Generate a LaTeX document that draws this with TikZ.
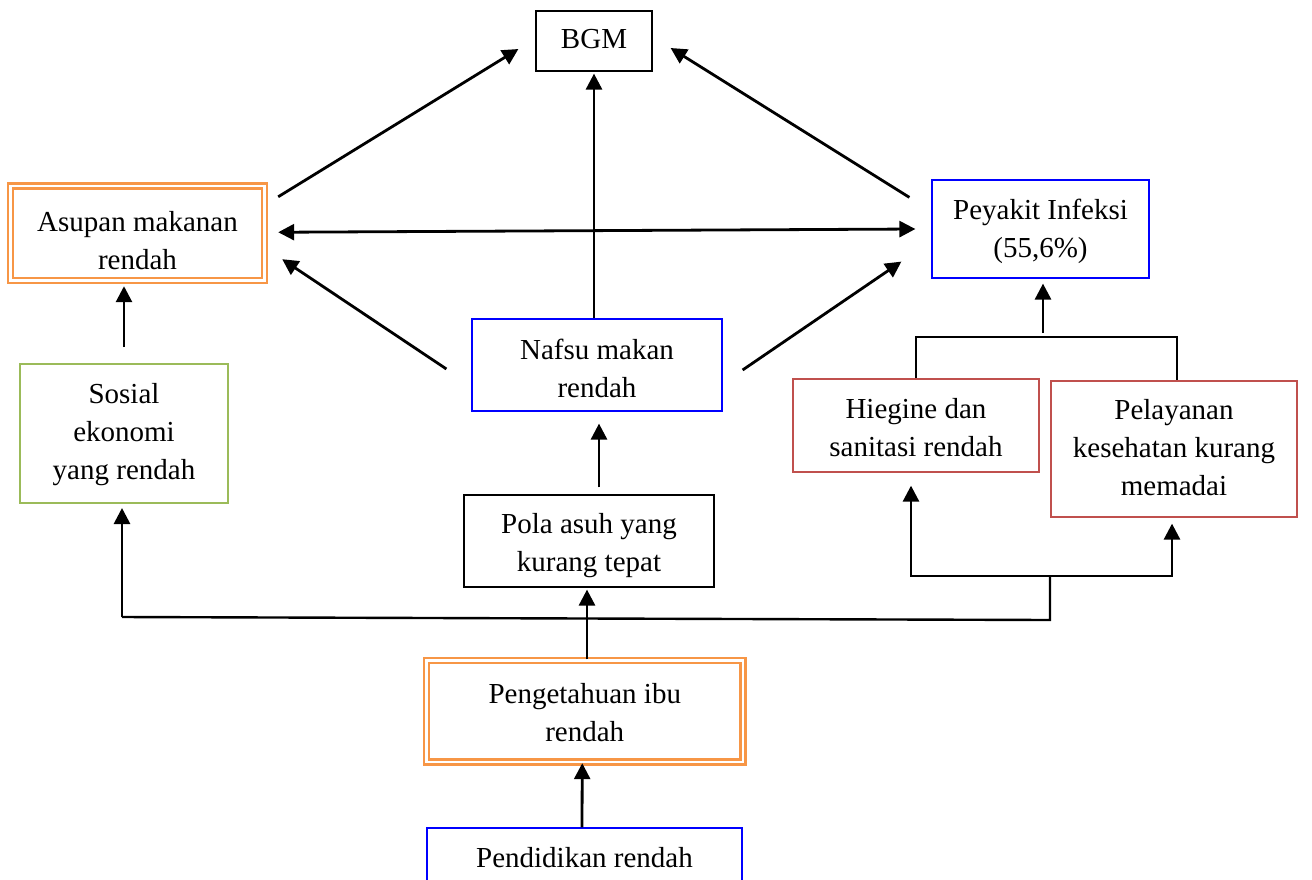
\documentclass[tikz,border=0pt]{standalone}
\usepackage{fontspec}
\setmainfont{Liberation Serif}
\usetikzlibrary{arrows.meta,calc}
\definecolor{boxorange}{HTML}{F79646}
\definecolor{boxblue}{HTML}{0000FF}
\definecolor{boxgreen}{HTML}{9BBB59}
\definecolor{boxred}{HTML}{C0504D}
\tikzset{
  box/.style={draw=black, line width=1.2pt, inner sep=0pt, fill=none},
  bluebox/.style={box, draw=boxblue},
  redbox/.style={box, draw=boxred, line width=1.3pt},
  greenbox/.style={box, draw=boxgreen, line width=2pt},
  dblbox/.style={box, draw=boxorange, line width=2.4pt, double=white, double distance=2.6pt},
  txt/.style={inner sep=0pt, align=center, anchor=north, font=\fontsize{29}{38}\selectfont},
  arr/.style={line width=2.8pt, -{Triangle[length=16pt,width=16pt]}},
  dblarr/.style={line width=2.8pt, {Triangle[length=16pt,width=16pt]}-{Triangle[length=16pt,width=16pt]}},
  link/.style={line width=2.4pt},
  fork/.style={line width=2pt},
}
\begin{document}
\begin{tikzpicture}[x=1pt,y=-1pt]
\useasboundingbox (0,0) rectangle (1312,879);
\clip (0,0) rectangle (1312,879);

% boxes
\node[box, minimum width=116pt, minimum height=60pt] (bgm) at (594,41) {};
\node[dblbox, minimum width=254pt, minimum height=94.5pt] (asupan) at (137.5,233.25) {};
\node[bluebox, minimum width=217pt, minimum height=98pt] (peyakit) at (1040.5,229) {};
\node[bluebox, minimum width=250pt, minimum height=92pt] (nafsu) at (597,365) {};
\node[greenbox, minimum width=208pt, minimum height=139pt] (sosial) at (124,433.5) {};
\node[box, minimum width=250pt, minimum height=92pt] (pola) at (589,541) {};
\node[redbox, minimum width=246pt, minimum height=93pt] (hiegine) at (916,425.5) {};
\node[redbox, minimum width=246pt, minimum height=136pt] (pelayanan) at (1174,449) {};
\node[dblbox, minimum width=316.5pt, minimum height=101.5pt] (pengetahuan) at (584.75,711.25) {};
\node[bluebox, minimum width=315pt, minimum height=72pt] (pendidikan) at (584.5,864) {};

% labels
\node[txt] (bgm-t) at (594,29) {BGM};
\node[txt] (asupan-t) at (137.5,211) {Asupan makanan\\rendah};
\node[txt] (peyakit-t) at (1040.5,199) {Peyakit Infeksi\\(55,6\%)};
\node[txt] (nafsu-t) at (597,339) {Nafsu makan\\rendah};
\node[txt] (sosial-t) at (124,383) {Sosial\\ekonomi\\yang rendah};
\node[txt] (pola-t) at (589,513) {Pola asuh yang\\kurang tepat};
\node[txt] (hiegine-t) at (916,398) {Hiegine dan\\sanitasi rendah};
\node[txt] (pelayanan-t) at (1174,399) {Pelayanan\\kesehatan kurang\\memadai};
\node[txt] (pengetahuan-t) at (584.75,683) {Pengetahuan ibu\\rendah};
\node[txt] (pendidikan-t) at (584.5,847) {Pendidikan rendah};

% vertical chain in the middle
\draw[arr] ([shift={(-2.5,0)}]pendidikan.north) -- ([shift={(-2.5,0)}]pengetahuan.south);
\draw[arr, shorten >=2pt] ([shift={(2.25,0)}]pengetahuan.north) -- ([shift={(-2,0)}]pola.south);
\draw[arr, shorten <=7pt, shorten >=12pt] ([shift={(2,0)}]pola.north -| nafsu.south) -- ([shift={(2,0)}]nafsu.south);
\draw[arr, shorten >=2pt] ([shift={(-3,0)}]nafsu.north) -- (bgm.south);

% left column
\draw[arr, shorten <=16pt, shorten >=4.5pt] (sosial.north) -- (asupan.south -| sosial.north);

% diagonal links
\draw[arr] ([shift={(12.5,12)}]asupan.north east) -- ([shift={(-17,8)}]bgm.west);
\draw[arr] ([shift={(-22,18)}]peyakit.north west) -- ([shift={(18,7)}]bgm.east);
\draw[dblarr] ([shift={(12.5,-1)}]asupan.east) -- ([shift={(-16,0)}]peyakit.west);
\draw[arr] ([shift={(-25,4)}]nafsu.west) -- ([shift={(16.5,-22.5)}]asupan.south east);
\draw[arr] ([shift={(20,5)}]nafsu.east) -- ([shift={(-30,-17)}]peyakit.south west);

% fork joining the two lower right causes to the infection box
\coordinate (topfork) at (1043,337);
\draw[fork] (hiegine.north) -- (hiegine.north |- topfork) -- ([shift={(3,0)}]pelayanan.north |- topfork) -- ([shift={(3,0)}]pelayanan.north);
\draw[arr, shorten >=5pt] ([shift={(0,-4)}]topfork) -- (peyakit.south -| topfork);

% branch from the knowledge line to the right-hand causes
\coordinate (botfork) at (1050,576);
\coordinate (mainr) at (1050,620);
\coordinate (mainl) at (122,617);
\draw[link] (botfork) -- (mainr) -- (mainl);
\draw[arr, shorten >=13pt] (botfork) -| ([shift={(-5,0)}]hiegine.south);
\draw[arr, shorten >=6pt] (botfork) -| ([shift={(-2,0)}]pelayanan.south);
\draw[arr, shorten >=4pt] (mainl) -- (sosial.south -| mainl);
\end{tikzpicture}
\end{document}
